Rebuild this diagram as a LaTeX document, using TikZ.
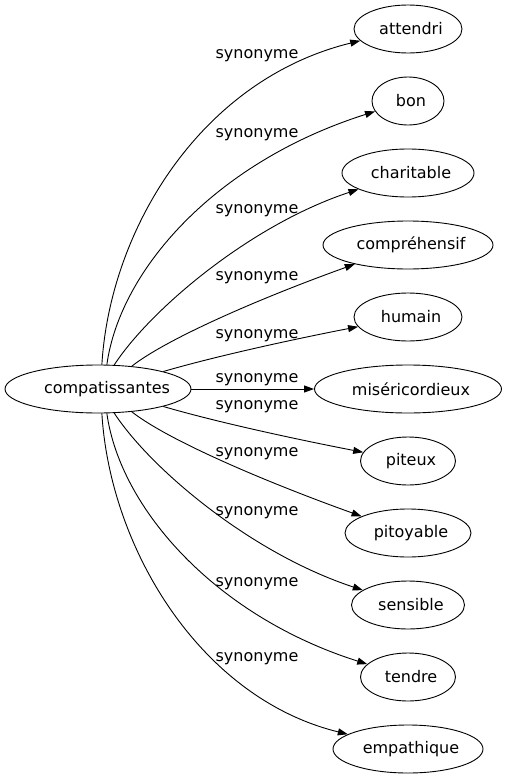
\documentclass[tikz,border=0pt]{standalone}
\usepackage{fontspec}
\setmainfont{DejaVu Sans}
\usetikzlibrary{arrows.meta,shapes.geometric}
\begin{document}
\begin{tikzpicture}[x=1pt,y=-1pt,
  every node/.style={font=\fontsize{16}{19}\selectfont},
  word/.style={draw, ellipse, inner sep=0pt, minimum height=48pt, line width=0.9pt,
    execute at begin node=\kern3pt, execute at end node=\kern-3pt},
  syn/.style={draw, line width=0.9pt, -{Triangle[length=10pt,width=7pt]}},
  lab/.style={inner sep=0pt}]
\useasboundingbox (0,0) rectangle (506,779);
\node[word, minimum width=186pt] (src) at (98,389) {\kern6pt compatissantes\kern-6pt};
\node[word, minimum width=108pt] (att) at (408,29) {attendri};
\node[word, minimum width=72pt] (bon) at (408,101) {bon};
\node[word, minimum width=132pt] (cha) at (408,173) {charitable};
\node[word, minimum width=170pt] (com) at (408,245) {compréhensif};
\node[word, minimum width=108pt] (hum) at (408,317) {humain};
\node[word, minimum width=187pt] (mis) at (408,389) {miséricordieux};
\node[word, minimum width=95pt] (pit) at (408,461) {piteux};
\node[word, minimum width=126pt] (pity) at (408,533) {pitoyable};
\node[word, minimum width=113pt] (sen) at (408,605) {sensible};
\node[word, minimum width=95pt] (ten) at (408,677) {tendre};
\node[word, minimum width=150pt] (emp) at (408,749) {empathique};

\draw[syn] (src.81) .. controls (110,230) and (200,80) .. (att);
\draw[syn] (src.70) .. controls (120,270) and (215,162) .. (bon);
\draw[syn] (src.56) .. controls (150,310) and (250,225) .. (cha);
\draw[syn] (src.34) .. controls (165,340) and (255,300) .. (com);
\draw[syn] (src.15) .. controls (220,355) and (300,338) .. (hum);
\draw[syn] (src) -- (mis);
\draw[syn] (src.-15) .. controls (220,423) and (300,440) .. (pit);
\draw[syn] (src.-34) .. controls (165,438) and (255,478) .. (pity);
\draw[syn] (src.-56) .. controls (150,468) and (250,553) .. (sen);
\draw[syn] (src.-70) .. controls (120,508) and (215,616) .. (ten);
\draw[syn] (src.-81) .. controls (110,548) and (200,698) .. (emp);

\node[lab] (l1) at (257,56) {synonyme};
\node[lab] (l2) at (257,135) {synonyme};
\node[lab] (l3) at (257,211) {synonyme};
\node[lab] (l4) at (257,278) {synonyme};
\node[lab] (l5) at (257,336) {synonyme};
\node[lab] (l6) at (257,380) {synonyme};
\node[lab] (l7) at (257,407) {synonyme};
\node[lab] (l8) at (257,454) {synonyme};
\node[lab] (l9) at (257,513) {synonyme};
\node[lab] (l10) at (257,584) {synonyme};
\node[lab] (l11) at (257,659) {synonyme};
\end{tikzpicture}
\end{document}
